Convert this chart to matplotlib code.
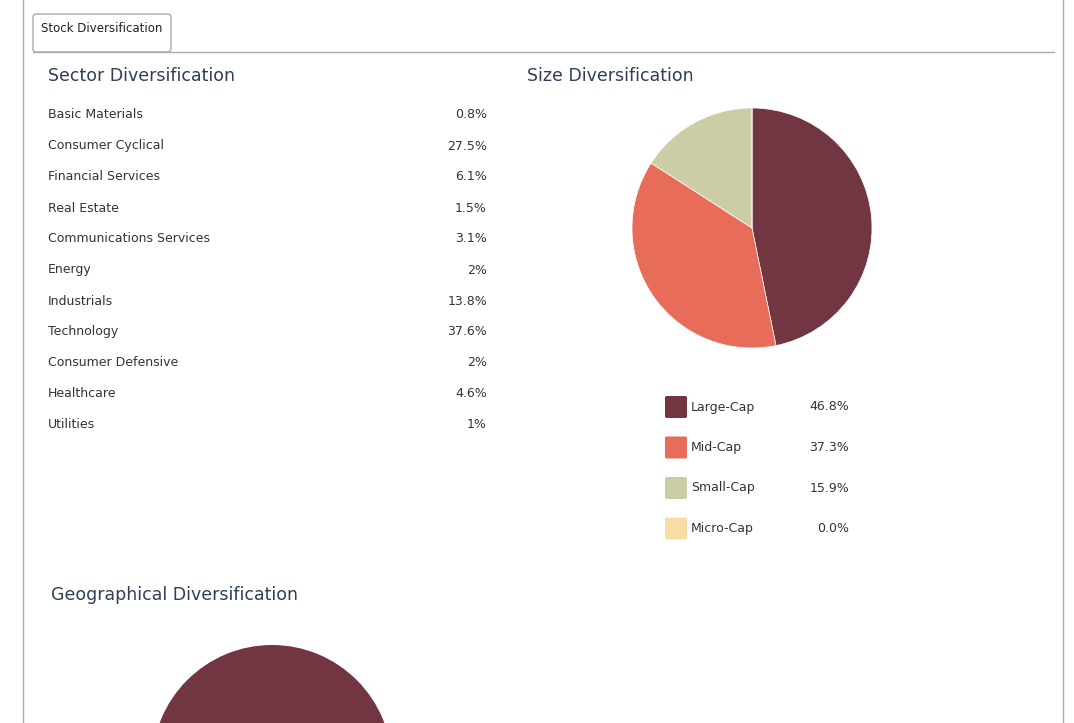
import matplotlib
matplotlib.use("Agg")
import matplotlib.pyplot as plt
from matplotlib.patches import FancyBboxPatch
from matplotlib.lines import Line2D

sectors = ['Basic Materials', 'Consumer Cyclical', 'Financial Services', 'Real Estate',
           'Communications Services', 'Energy', 'Industrials', 'Technology',
           'Consumer Defensive', 'Healthcare', 'Utilities']
sector_pct = ['0.8%', '27.5%', '6.1%', '1.5%', '3.1%', '2%', '13.8%', '37.6%', '2%', '4.6%', '1%']

sizes = ['Large-Cap', 'Mid-Cap', 'Small-Cap', 'Micro-Cap']
size_vals = [46.8, 37.3, 15.9, 0.0]
size_colors = ['#713641', '#e86c5a', '#cccda4', '#f7dca6']

geo_vals = [100.0]
geo_colors = ['#713641']

W, H = 1074, 723
fig = plt.figure(figsize=(W / 100, H / 100), dpi=100)

def fx(x):
    return x / W

def fy(y):
    return 1 - y / H

def txt(x, y, s, **kw):
    fig.text(fx(x), fy(y), s, va='center', **kw)

# frame and tab
grey = '#aaaaaa'
fig.add_artist(Line2D([fx(23), fx(23)], [0, 1], color=grey, lw=1))
fig.add_artist(Line2D([fx(1063), fx(1063)], [0, 1], color=grey, lw=1))
fig.add_artist(Line2D([fx(33), fx(1054)], [fy(52), fy(52)], color=grey, lw=1))
fig.add_artist(FancyBboxPatch((fx(33), fy(52)), fx(171) - fx(33), fy(14) - fy(52),
                              boxstyle='round,pad=0,rounding_size=0.004',
                              transform=fig.transFigure, fc='white', ec=grey, lw=1))
txt(102, 29, 'Stock Diversification', ha='center', fontsize=8.5, color='#222222')

head = '#2e3f55'
body = '#333333'
txt(48, 76, 'Sector Diversification', fontsize=12.5, color=head)
txt(527, 76, 'Size Diversification', fontsize=12.5, color=head)
txt(51, 595, 'Geographical Diversification', fontsize=12.5, color=head)

for i, (s, p) in enumerate(zip(sectors, sector_pct)):
    y = 115 + i * 31
    txt(48, y, s, fontsize=9, color=body)
    txt(487, y, p, fontsize=9, color=body, ha='right')

# size pie
r = 120
ax = fig.add_axes([fx(752 - r), fy(228 + r), 2 * r / W, 2 * r / H])
ax.pie(size_vals, colors=size_colors, startangle=90, counterclock=False,
       wedgeprops=dict(edgecolor='white', linewidth=0.5))
ax.set_xlim(-1, 1)
ax.set_ylim(-1, 1)
ax.set_aspect('equal')

for i, (s, v, c) in enumerate(zip(sizes, size_vals, size_colors)):
    y = 407 + i * 40.5
    fig.add_artist(FancyBboxPatch((fx(665), fy(y + 11)), 22 / W, 22 / H,
                                  boxstyle='round,pad=0,rounding_size=0.002',
                                  transform=fig.transFigure, fc=c, ec='none'))
    txt(691, y, s, fontsize=9, color=body)
    txt(849, y, f'{v:.1f}%', fontsize=9, color=body, ha='right')

# geographical pie (cut off at bottom)
ax2 = fig.add_axes([fx(272 - r), fy(765 + r), 2 * r / W, 2 * r / H])
ax2.pie(geo_vals, colors=geo_colors, startangle=90, counterclock=False)
ax2.set_xlim(-1, 1)
ax2.set_ylim(-1, 1)
ax2.set_aspect('equal')

fig.savefig('out.png', dpi=100)
